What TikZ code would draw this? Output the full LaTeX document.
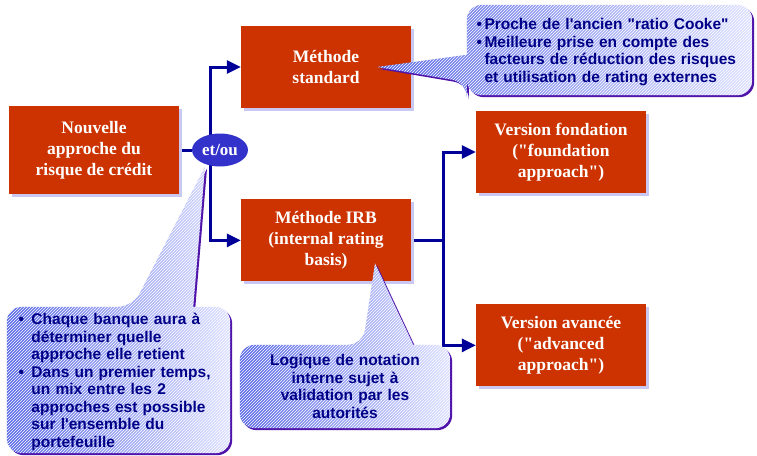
\documentclass[tikz,border=0pt]{standalone}
\usepackage{fontspec}
\setmainfont{Liberation Serif}
\newfontfamily\bubblefont{Liberation Sans}
\usepackage{tikz}
\usetikzlibrary{arrows.meta,positioning,calc,shadows,patterns,shapes.geometric}

\definecolor{boxred}{RGB}{204,51,0}
\definecolor{boxshadow}{RGB}{200,200,242}
\definecolor{linknavy}{RGB}{0,0,153}
\definecolor{choiceblue}{RGB}{51,51,204}
\definecolor{notenavy}{RGB}{0,0,135}
\definecolor{bubbleL}{RGB}{90,105,230}
\definecolor{bubbleR}{RGB}{222,225,255}
\definecolor{bubbleedge}{RGB}{80,20,170}

\pgfdeclarelayer{back}
\pgfdeclarelayer{bubbles}
\pgfdeclarelayer{front}
\pgfsetlayers{back,main,bubbles,front}

% one bullet paragraph of a callout
\newcommand{\puce}[2][11pt]{\par\noindent\makebox[#1][l]{\textbullet}%
  \parbox[t]{\dimexpr\hsize-#1\relax}{\raggedright #2\strut}\par}

\begin{document}
\begin{tikzpicture}
  [x=1pt,y=-1pt,
   box/.style={rectangle,fill=boxred,text=white,align=center,inner sep=0,
     minimum width=170,minimum height=82,
     font=\bfseries\fontsize{17.5}{21}\selectfont,
     general shadow={fill=boxshadow,shadow xshift=3pt,shadow yshift=-3pt}},
   choice/.style={ellipse,fill=choiceblue,text=white,inner sep=0,
     minimum width=56,minimum height=33,font=\bfseries\fontsize{17}{21}\selectfont},
   link/.style={draw=linknavy,line width=3pt},
   arrow/.style={link,-{Triangle[length=14pt,width=13pt]}},
   note/.style={inner sep=0,text=notenavy,
     font=\bubblefont\bfseries\fontsize{15.5}{17.5}\selectfont},
   bubble/.style={left color=bubbleL,right color=bubbleR,
     preaction={fill=bubbleedge,transform canvas={shift={(2pt,-2pt)}}},
     postaction={pattern=north east lines,pattern color=white}}]
  \useasboundingbox (0,0) rectangle (757,455);
  \node[box,minimum height=88] (nouv) at (94,150) {Nouvelle\\approche du\\risque de crédit};
  \node[choice] (etou) at (220,150) {et/ou};
  \node[box] (mstd) at (326,67) {Méthode\\standard};
  \node[box] (mirb) [below=91pt of mstd] {Méthode IRB\\(internal rating\\basis)};
  \node[box] (vfond) at (561,152) {Version fondation\\(\textquotedbl foundation\\approach\textquotedbl)};
  \node[box] (vadv) [below=111pt of vfond] {Version avancée\\(\textquotedbl advanced\\approach\textquotedbl)};
  \begin{pgfonlayer}{back}
    \draw[link] (nouv.east) -- (etou.west);
    \draw[arrow] ([xshift=-10pt]etou.center) |- (mstd.west);
    \draw[arrow] ([xshift=-10pt]etou.center) |- (mirb.west);
    \draw[link] (mirb.east) -- ++(32,0) coordinate (split);
    \draw[arrow] (split) |- (vfond.west);
    \draw[arrow] (split) |- (vadv.west);
  \end{pgfonlayer}
  \begin{pgfonlayer}{front}
    \node[note,minimum width=285,minimum height=90,text width=266,align=left] (stdnote) at (609.5,50)
      {\puce[8pt]{Proche de l\textquotesingle ancien "ratio Cooke"}
       \puce[8pt]{Meilleure prise en compte des\newline facteurs de réduction des risques\newline et utilisation de rating externes}};
    \node[note,minimum width=210,minimum height=83,text width=200,align=center] (irbnote) at (345,386.5)
      {Logique de notation\\interne sujet à\\validation par les\\autorités};
    \node[note,minimum width=223,minimum height=146,text width=200,align=left] (etounote) at (118.5,380)
      {\puce[13pt]{Chaque banque aura à\newline déterminer quelle\newline approche elle retient}
       \puce[13pt]{Dans un premier temps,\newline un mix entre les 2\newline approches est possible\newline sur l\textquotesingle ensemble du\newline portefeuille}};
  \end{pgfonlayer}
  \begin{pgfonlayer}{bubbles}
    \coordinate (stdtip) at ($(mstd.east)+(-34,0)$);
    \coordinate (irbtip) at ($(mirb.center)+(49,23)$);
    \coordinate (etoutip) at ($(etou.south)+(-15,0)$);
    \path[bubble] (stdtip) -- ([yshift=-50pt]stdnote.north west) [rounded corners=15pt]
      -- (stdnote.north west) -- (stdnote.north east) -- (stdnote.south east)
      -- (stdnote.south west) -- ([yshift=13pt]stdnote.south west) [sharp corners] -- cycle;
    \path[bubble] (irbtip) -- ([xshift=-37pt]irbnote.north east) [rounded corners=15pt]
      -- (irbnote.north east) -- (irbnote.south east) -- (irbnote.south west)
      -- (irbnote.north west) -- ([xshift=123pt]irbnote.north west) [sharp corners] -- cycle;
    \path[bubble] (etoutip) -- ([xshift=-37pt]etounote.north east) [rounded corners=15pt]
      -- (etounote.north east) -- (etounote.south east) -- (etounote.south west)
      -- (etounote.north west) -- ([xshift=126pt]etounote.north west) [sharp corners] -- cycle;
  \end{pgfonlayer}
\end{tikzpicture}
\end{document}
